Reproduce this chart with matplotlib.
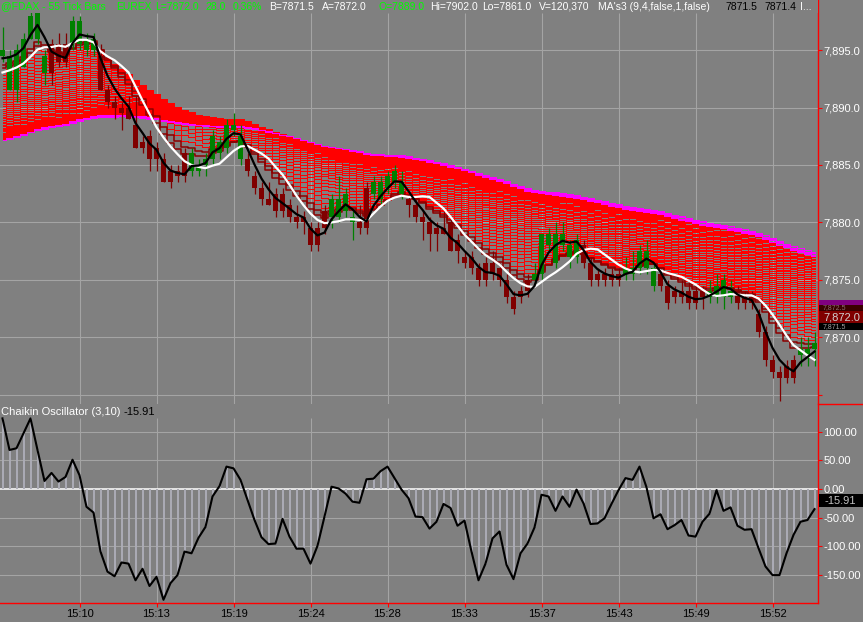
import numpy as np
import matplotlib.pyplot as plt
from matplotlib.patches import Rectangle

W, H = 863, 622

# 55 tick bars (price points)
opens = [7894.5, 7891.5, 7891.5, 7893.5, 7896.0, 7896.0, 7893.0, 7895.5, 7895.5, 7895.5,
         7895.5, 7895.5, 7895.0, 7895.0, 7894.5, 7891.5, 7890.5, 7890.0, 7890.0, 7888.5,
         7887.0, 7887.5, 7886.5, 7885.5, 7884.5, 7884.5, 7886.0, 7884.5, 7884.5, 7885.0,
         7885.5, 7886.0, 7886.5, 7888.0, 7885.5, 7885.5, 7884.0, 7883.0, 7882.0, 7882.5,
         7882.5, 7881.5, 7880.5, 7880.5, 7879.5, 7879.5, 7881.0, 7880.5, 7880.5, 7881.0,
         7880.0, 7880.0, 7883.0, 7882.5, 7882.0, 7883.0, 7883.5, 7882.5, 7882.0, 7881.5,
         7880.5, 7880.0, 7879.5, 7879.5, 7880.0, 7878.5, 7877.0, 7877.0, 7876.0, 7876.5,
         7876.5, 7876.0, 7875.0, 7873.5, 7874.0, 7875.0, 7875.0, 7875.5, 7878.0, 7876.5,
         7878.0, 7877.0, 7877.0, 7878.0, 7876.5, 7875.5, 7875.5, 7875.5, 7875.5, 7875.5,
         7875.5, 7876.0, 7876.0, 7874.5, 7875.5, 7874.5, 7874.0, 7874.0, 7874.0, 7874.0,
         7874.0, 7873.5, 7873.5, 7873.5, 7873.5, 7874.0, 7873.5, 7873.5, 7872.0, 7870.5,
         7868.0, 7867.0, 7867.5, 7868.0, 7868.5, 7868.5, 7869.0]
highs = [7897.0, 7895.0, 7895.5, 7896.5, 7898.5, 7899.0, 7895.0, 7896.0, 7896.5, 7896.5,
         7898.0, 7898.0, 7896.5, 7896.5, 7895.5, 7892.0, 7891.0, 7890.5, 7891.0, 7891.0,
         7887.5, 7888.0, 7887.0, 7886.0, 7885.0, 7885.0, 7886.5, 7886.5, 7885.5, 7886.0,
         7888.0, 7887.5, 7889.0, 7889.5, 7888.5, 7886.0, 7884.5, 7883.5, 7883.5, 7883.0,
         7883.0, 7882.0, 7881.5, 7881.0, 7880.0, 7880.0, 7881.5, 7882.5, 7884.0, 7883.0,
         7881.0, 7881.5, 7883.5, 7884.0, 7884.0, 7884.5, 7885.0, 7884.5, 7882.5, 7882.0,
         7881.0, 7880.5, 7880.0, 7881.0, 7880.5, 7879.0, 7877.5, 7877.5, 7876.5, 7877.0,
         7877.5, 7876.5, 7875.5, 7874.0, 7874.5, 7875.5, 7876.5, 7879.0, 7879.5, 7880.0,
         7880.0, 7878.5, 7879.0, 7878.5, 7877.0, 7876.0, 7876.0, 7876.0, 7876.0, 7877.0,
         7877.5, 7878.0, 7878.5, 7876.5, 7876.0, 7875.0, 7874.5, 7875.0, 7875.0, 7874.5,
         7874.5, 7875.0, 7875.5, 7875.5, 7875.0, 7874.5, 7874.0, 7874.0, 7872.5, 7871.0,
         7868.5, 7867.5, 7868.0, 7868.5, 7870.0, 7870.0, 7870.5]
lows = [7894.0, 7891.5, 7890.5, 7893.5, 7896.0, 7895.5, 7892.0, 7892.0, 7893.5, 7893.5,
        7895.0, 7895.0, 7894.5, 7894.5, 7891.5, 7890.0, 7889.0, 7888.0, 7889.0, 7886.5,
        7886.0, 7884.5, 7884.5, 7883.5, 7883.0, 7883.5, 7883.5, 7884.0, 7884.0, 7884.0,
        7885.0, 7885.5, 7886.0, 7887.5, 7885.0, 7884.0, 7882.5, 7881.5, 7881.5, 7880.5,
        7880.5, 7880.0, 7879.5, 7879.0, 7877.5, 7877.5, 7879.0, 7879.5, 7880.0, 7880.5,
        7878.5, 7879.0, 7879.0, 7882.0, 7881.5, 7882.5, 7883.0, 7882.0, 7880.5, 7880.0,
        7878.5, 7877.5, 7877.5, 7879.0, 7877.5, 7876.5, 7876.0, 7875.5, 7874.5, 7874.5,
        7875.0, 7874.5, 7873.0, 7872.0, 7873.0, 7873.5, 7874.5, 7875.0, 7877.5, 7876.0,
        7877.5, 7876.0, 7876.5, 7876.0, 7874.5, 7874.5, 7874.5, 7874.5, 7874.5, 7875.0,
        7875.0, 7875.5, 7875.5, 7874.0, 7874.0, 7872.5, 7873.0, 7873.0, 7872.5, 7872.5,
        7872.5, 7873.0, 7873.0, 7872.5, 7873.0, 7872.5, 7872.5, 7872.5, 7870.0, 7867.5,
        7866.5, 7864.5, 7866.0, 7866.0, 7867.5, 7867.5, 7867.5]
closes = [7895.0, 7894.5, 7895.0, 7896.0, 7898.0, 7898.5, 7894.5, 7893.0, 7894.0, 7894.0,
          7897.5, 7897.5, 7896.0, 7896.0, 7891.5, 7890.5, 7890.0, 7889.5, 7889.0, 7886.5,
          7886.5, 7885.5, 7885.5, 7883.5, 7883.5, 7884.0, 7884.0, 7886.0, 7885.0, 7885.5,
          7887.5, 7887.0, 7888.5, 7888.5, 7887.5, 7884.5, 7883.0, 7882.0, 7881.5, 7881.0,
          7881.0, 7880.5, 7880.0, 7880.0, 7878.0, 7878.0, 7879.5, 7882.0, 7882.0, 7882.5,
          7880.5, 7879.5, 7879.5, 7883.5, 7883.5, 7884.0, 7884.5, 7883.5, 7881.5, 7880.5,
          7880.0, 7879.0, 7879.0, 7879.0, 7877.5, 7877.5, 7876.5, 7876.0, 7875.0, 7875.0,
          7875.5, 7875.0, 7873.5, 7872.5, 7873.5, 7874.0, 7875.5, 7879.0, 7879.0, 7879.0,
          7879.0, 7878.0, 7878.5, 7876.5, 7875.0, 7875.0, 7875.0, 7875.0, 7875.0, 7876.0,
          7876.0, 7877.5, 7877.5, 7876.0, 7874.5, 7873.0, 7873.5, 7873.5, 7873.0, 7873.0,
          7873.5, 7874.0, 7874.5, 7875.0, 7874.0, 7873.0, 7873.0, 7873.0, 7870.5, 7868.0,
          7867.0, 7866.5, 7866.5, 7866.5, 7869.0, 7869.0, 7869.5]

chaikin = [123, 68, 71, 97, 123, 68, 14, 28, 13, 21,
           51, 24, -31, -41, -109, -144, -152, -128, -130, -159,
           -139, -169, -153, -193, -164, -150, -109, -112, -85, -66,
           -13, 5, 39, 36, 16, -19, -54, -84, -96, -95,
           -52, -83, -104, -104, -130, -99, -48, 4, 1, -8,
           -22, -24, 17, 18, 31, 39, 19, -1, -16, -48,
           -49, -69, -57, -26, -33, -64, -55, -109, -159, -130,
           -86, -74, -132, -157, -112, -95, -67, -10, -13, -38,
           -13, -31, -1, -25, -61, -60, -51, -26, -2, 19,
           16, 39, 3, -51, -44, -70, -63, -54, -81, -83,
           -57, -43, -2, -38, -32, -64, -71, -70, -103, -135,
           -150, -150, -112, -80, -57, -54, -35]

time_ticks = [11, 22, 33, 44, 55, 66, 77, 88, 99, 110]
time_labels = ["15:10", "15:13", "15:19", "15:24", "15:28",
               "15:33", "15:37", "15:43", "15:49", "15:52"]
price_ticks = [7865, 7870, 7875, 7880, 7885, 7890, 7895]
osc_ticks = [100, 50, 0, -50, -100, -150]

# moving average settings and their starting values at the first bar
fast_span, slow_span = 4, 9
fast_start, slow_start = 7893.8, 7892.8
ribbon_spans = list(range(10, 101, 2))
ribbon_top0, ribbon_bottom0 = 7893.4, 7887.0


def ema(values, span, start):
    a = 2.0 / (span + 1)
    out = []
    prev = start
    for v in values:
        prev = prev + a * (v - prev)
        out.append(prev)
    return np.array(out)


def sma(values, span, start):
    padded = np.concatenate([np.full(span - 1, start), values])
    return np.convolve(padded, np.ones(span) / span, mode='valid')


plt.rcParams['font.family'] = ['Liberation Sans', 'DejaVu Sans']

GRAY = '#808080'
GRID = '#a4a4a4'
UP = '#008000'
DOWN = '#800000'

fig = plt.figure(figsize=(W / 100, H / 100), dpi=100, facecolor=GRAY)

ax = fig.add_axes([0, 1 - 404 / H, 818 / W, 404 / H])
ax2 = fig.add_axes([0, 1 - 603 / H, 818 / W, 199 / H])

x = np.arange(len(closes))
o = np.array(opens)
c = np.array(closes)

# ---- price panel
ax.set_facecolor(GRAY)
ax.set_xlim(-2.5 / 7, 815.5 / 7)
ax.set_ylim(7864.217, 7899.348)

ax.vlines(time_ticks, 7864.217, 7898.2, color=GRID, lw=0.8, zorder=1)
ax.hlines(price_ticks, -1, 120, color=GRID, lw=0.8, zorder=1)

n = len(ribbon_spans)
seeds = ribbon_bottom0 + (ribbon_top0 - ribbon_bottom0) * (1 - np.linspace(0, 1, n)) ** 2
for k in range(n - 1, -1, -1):
    vals = ema(closes, ribbon_spans[k], seeds[k])
    if k < 2:
        ax.plot(x, vals, color='#8c0000', lw=1.1, drawstyle='steps-mid', zorder=2.2)
    elif k >= n - 4:
        ax.plot(x, vals, color='#ff00ff', lw=0.5, antialiased=False,
                drawstyle='steps-mid', zorder=2.1)
    else:
        ax.plot(x, vals, color='#ff0000', lw=0.5, antialiased=False,
                drawstyle='steps-mid', zorder=2)

colors = [UP if cc >= oo else DOWN for oo, cc in zip(opens, closes)]
ax.vlines(x, lows, highs, color=colors, lw=0.9, zorder=3)
ax.bar(x, np.maximum(np.abs(c - o), 0.12), bottom=np.minimum(o, c),
       width=5 / 7, color=colors, linewidth=0, zorder=3)

ax.plot(x, sma(c, slow_span, slow_start), color='white', lw=1.6, zorder=4)
ax.plot(x, ema(closes, fast_span, fast_start), color='black', lw=1.6, zorder=5)

ax.yaxis.tick_right()
ax.set_yticks(price_ticks)
ax.set_yticklabels([''] + [f"{p:,.1f}" for p in price_ticks[1:]])
ax.set_xticks([])
ax.tick_params(axis='y', colors='red', labelcolor='white', length=3,
               width=0.8, pad=1, labelsize=8)
for side in ['top', 'bottom', 'left']:
    ax.spines[side].set_visible(False)
ax.spines['right'].set_color('red')
ax.spines['right'].set_linewidth(1.0)

# ---- Chaikin oscillator panel
ax2.set_facecolor(GRAY)
ax2.set_xlim(-2.5 / 7, 815.5 / 7)
ax2.set_ylim(-198.6, 148.1)

ax2.vlines(time_ticks, -198.6, 123.7, color=GRID, lw=0.8, zorder=1)
ax2.hlines([100, 50, -50, -100, -150], -1, 120, color=GRID, lw=0.8, zorder=1)
ax2.axhline(0, color='white', lw=1.1, zorder=2)
ax2.vlines(x, 0, chaikin, color='#acacb6', lw=1.4, zorder=3)
ax2.plot(x, chaikin, color='black', lw=1.5, zorder=4)

ax2.yaxis.tick_right()
ax2.set_yticks(osc_ticks)
ax2.set_yticklabels([f"{v:.2f}" for v in osc_ticks])
ax2.set_xticks(time_ticks)
ax2.set_xticklabels(time_labels)
ax2.tick_params(axis='y', colors='red', labelcolor='white', length=3,
                width=0.8, pad=1, labelsize=8)
ax2.tick_params(axis='x', colors='red', labelcolor='black', length=3,
                width=0.8, pad=1, labelsize=8)
for side in ['top', 'left']:
    ax2.spines[side].set_visible(False)
for side in ['right', 'bottom']:
    ax2.spines[side].set_color('red')
    ax2.spines[side].set_linewidth(1.0)

# ---- overlay in pixel units for header text and value boxes
ov = fig.add_axes([0, 0, 1, 1], facecolor='none')
ov.set_xlim(0, W)
ov.set_ylim(H, 0)
ov.axis('off')

ov.plot([818, W], [404, 404], color='red', lw=1.0)
# header band hides whatever reaches the top of the price panel
ov.add_patch(Rectangle((0, 0), 817.5, 12.5, facecolor=GRAY, edgecolor='none', zorder=5))

header = [
    ("@FDAX - 55 Tick Bars", 1, '#00ff00'), ("EUREX", 116, '#00ff00'),
    ("L=7872.0", 155, '#00ff00'), ("28.0", 205, '#00ff00'),
    ("0.36%", 233, '#00ff00'), ("B=7871.5", 269, 'white'),
    ("A=7872.0", 322, 'white'), ("O=7889.0", 378, '#00ff00'),
    ("Hi=7902.0", 430, 'white'), ("Lo=7861.0", 482, 'white'),
    ("V=120,370", 539, 'white'), ("MA's3 (9,4,false,1,false)", 598, 'white'),
    ("7871.5", 725, 'black'), ("7871.4", 764, 'black'), ("I...", 800, 'white'),
]
for txt, px, col in header:
    ov.text(px, 6.5, txt, color=col, fontsize=7.5, va='center', ha='left', zorder=6)

ov.text(1, 412, "Chaikin Oscillator (3,10)", color='white', fontsize=8, va='center')
ov.text(123, 412, "-15.91", color='black', fontsize=8, va='center')

# stacked last-value boxes on the price scale (two are mostly hidden)
boxes = [
    (300, 305, '#800080', None, None, 0),
    (305, 311, '#3a0000', "7,872.5", '#8a7070', 5),
    (323, 330, '#000000', "7,871.5", '#a0a0a0', 5),
    (311, 323, '#800000', "7,872.0", '#d0d0d0', 8),
]
z = 10
for y0, y1, fc, txt, tc, fs in boxes:
    rect = Rectangle((819, y0), W - 819, y1 - y0, facecolor=fc,
                     edgecolor='none', zorder=z)
    ov.add_patch(rect)
    if txt:
        t = ov.text(823, (y0 + y1) / 2, txt, color=tc, fontsize=fs,
                    va='center', zorder=z + 1)
        t.set_clip_path(rect)
    z += 2

ov.add_patch(Rectangle((819, 494), W - 819, 13, facecolor='black',
                       edgecolor='none', zorder=10))
ov.text(824, 500.5, "-15.91", color='#c0c0c0', fontsize=8, va='center', zorder=11)

fig.savefig("out.png", dpi=100, facecolor=GRAY)
